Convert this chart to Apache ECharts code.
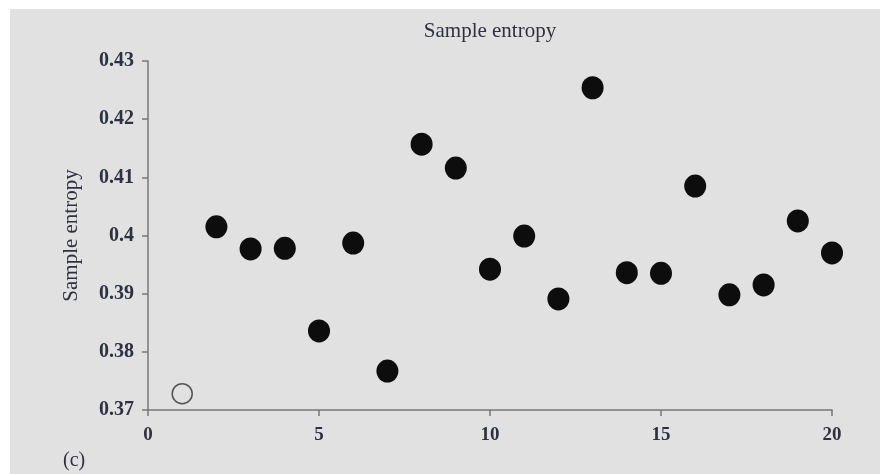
<!DOCTYPE html>
<html>
<head>
<meta charset="utf-8">
<script src="https://cdn.jsdelivr.net/npm/echarts@6/dist/echarts.min.js"></script>
<style>
html,body{margin:0;padding:0;background:#fff;}
#c{width:880px;height:474px;}
</style>
</head>
<body>
<div id="c"></div>
<script>
const titleText = "Sample entropy";
const yAxisName = "Sample entropy";
const panelLabel = "(c)";
const openX = [1];
const openY = [0.3728];
const filledX = [2,3,4,5,6,7,8,9,10,11,12,13,14,15,16,17,18,19,20];
const filledY = [0.4015,0.3977,0.3978,0.3836,0.3987,0.3767,0.4157,0.4116,0.3942,0.3999,0.3891,0.4254,0.3936,0.3935,0.4085,0.3898,0.3915,0.4025,0.3970];

const chart = echarts.init(document.getElementById('c'), null, {renderer:'canvas'});
const serif = '"Liberation Serif", "DejaVu Serif", serif';
const axisColor = '#777';
const labelColor = '#2c3143';
chart.setOption({
  backgroundColor: 'transparent',
  animation: false,
  title: {
    text: titleText, left: 490, top: 21, textAlign: 'center', padding: 0,
    textStyle: {fontFamily: serif, fontSize: 21, fontWeight: 'normal', color: labelColor}
  },
  graphic: [
    {type:'rect', z:-100, shape:{x:10,y:9,width:870,height:465}, style:{fill:'#e1e1e1'}, silent:true},
    {type:'text', left: 63, top: 451, style:{text: panelLabel, font: '20px "Liberation Serif", serif', fill: labelColor}}
  ],
  grid: {left:148, right:48, top:61, bottom:64},
  xAxis: {
    type:'value', min:0, max:20, interval:5,
    axisLine:{show:true, lineStyle:{color:axisColor, width:1.5}},
    axisTick:{show:true, length:6, lineStyle:{color:axisColor, width:1.5}},
    splitLine:{show:false},
    axisLabel:{fontFamily:serif, fontSize:19, color:labelColor, margin:16, fontWeight:'bold'}
  },
  yAxis: {
    type:'value', min:0.37, max:0.43, interval:0.01,
    name: yAxisName, nameLocation:'middle', nameGap:66,
    nameTextStyle:{fontFamily:serif, fontSize:21, color:labelColor},
    axisLine:{show:true, lineStyle:{color:axisColor, width:1.5}},
    axisTick:{show:true, length:6, lineStyle:{color:axisColor, width:1.5}},
    splitLine:{show:false},
    axisLabel:{fontFamily:serif, fontSize:20, color:labelColor, margin:14, fontWeight:'bold'}
  },
  series: [
    {
      type:'scatter', symbol:'circle', symbolSize:20,
      data: openX.map((x,i)=>[x, openY[i]]),
      itemStyle:{color:'transparent', borderColor:'#555', borderWidth:1.5, opacity:1}
    },
    {
      type:'scatter', symbol:'circle', symbolSize:[22,23],
      data: filledX.map((x,i)=>[x, filledY[i]]),
      itemStyle:{color:'#0d0d0d', opacity:1}
    }
  ]
});
</script>
</body>
</html>
